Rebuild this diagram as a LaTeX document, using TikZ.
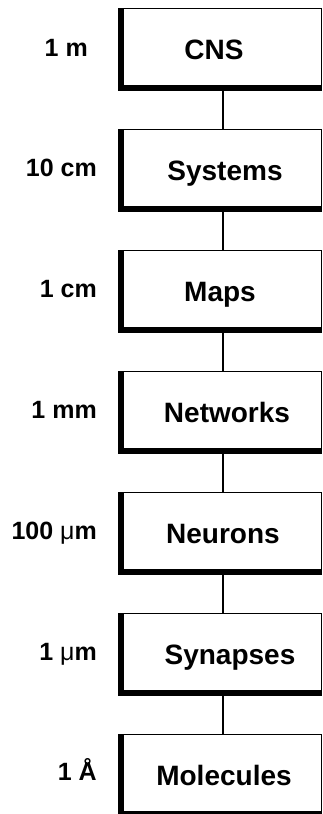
\documentclass[tikz,border=0pt]{standalone}
\usepackage{fontspec}
\setmainfont{Liberation Sans}
\begin{document}
\begin{tikzpicture}[x=1pt,y=-1pt,
  level/.style={minimum width=204pt, minimum height=83pt, inner sep=0pt,
    text height=20pt, text depth=0pt,
    font=\bfseries\fontsize{28}{30}\selectfont},
  size/.style={anchor=base east, inner sep=0pt,
    font=\bfseries\fontsize{25}{27}\selectfont},
  link/.style={line width=1.2pt}]
\useasboundingbox (0,0) rectangle (323,814);
\clip (0,0) rectangle (323,814);

% levels of organisation (box centres 121pt apart)
\node[level] (cns) at (220,49.5)  {CNS\hspace*{12pt}};
\node[level] (sys) at (220,170.5) {\hspace*{10pt}Systems};
\node[level] (map) at (220,291.5) {Maps};
\node[level] (net) at (220,412.5) {\hspace*{14pt}Networks};
\node[level] (neu) at (220,533.5) {\hspace*{6pt}Neurons};
\node[level] (syn) at (220,654.5) {\hspace*{20pt}Synapses};
\node[level] (mol) at (220,775.5) {\hspace*{8pt}Molecules};

% spatial scales
\node[size] (s1) at (88,56)  {1 m};
\node[size] (s2) at (97,176) {10 cm};
\node[size] (s3) at (97,297) {1 cm};
\node[size] (s4) at (97,418) {1 mm};
\node[size] (s5) at (97,539) {100 {\mdseries μ}m};
\node[size] (s6) at (97,660) {1 {\mdseries μ}m};
\node[size] (s7) at (97,780) {1 Å};

% box frames: thin top/right, heavy left/bottom
\foreach \b in {cns,sys,map,net,neu,syn,mol}{
  \draw[line width=1.5pt] ([shift={(5pt,-0.75pt)}]\b.north west)
    rectangle ([shift={(-0.75pt,5.5pt)}]\b.south east);
  \fill (\b.north west) rectangle ([shift={(5.5pt,0pt)}]\b.south west);
  \fill (\b.south west) rectangle ([shift={(0pt,6pt)}]\b.south east);
}

% connectors
\draw[link] ([xshift=3pt]cns.south) -- ([xshift=3pt]sys.north);
\draw[link] ([xshift=3pt]sys.south) -- ([xshift=3pt]map.north);
\draw[link] ([xshift=3pt]map.south) -- ([xshift=3pt]net.north);
\draw[link] ([xshift=3pt]net.south) -- ([xshift=3pt]neu.north);
\draw[link] ([xshift=3pt]neu.south) -- ([xshift=3pt]syn.north);
\draw[link] ([xshift=3pt]syn.south) -- ([xshift=3pt]mol.north);
\end{tikzpicture}
\end{document}
